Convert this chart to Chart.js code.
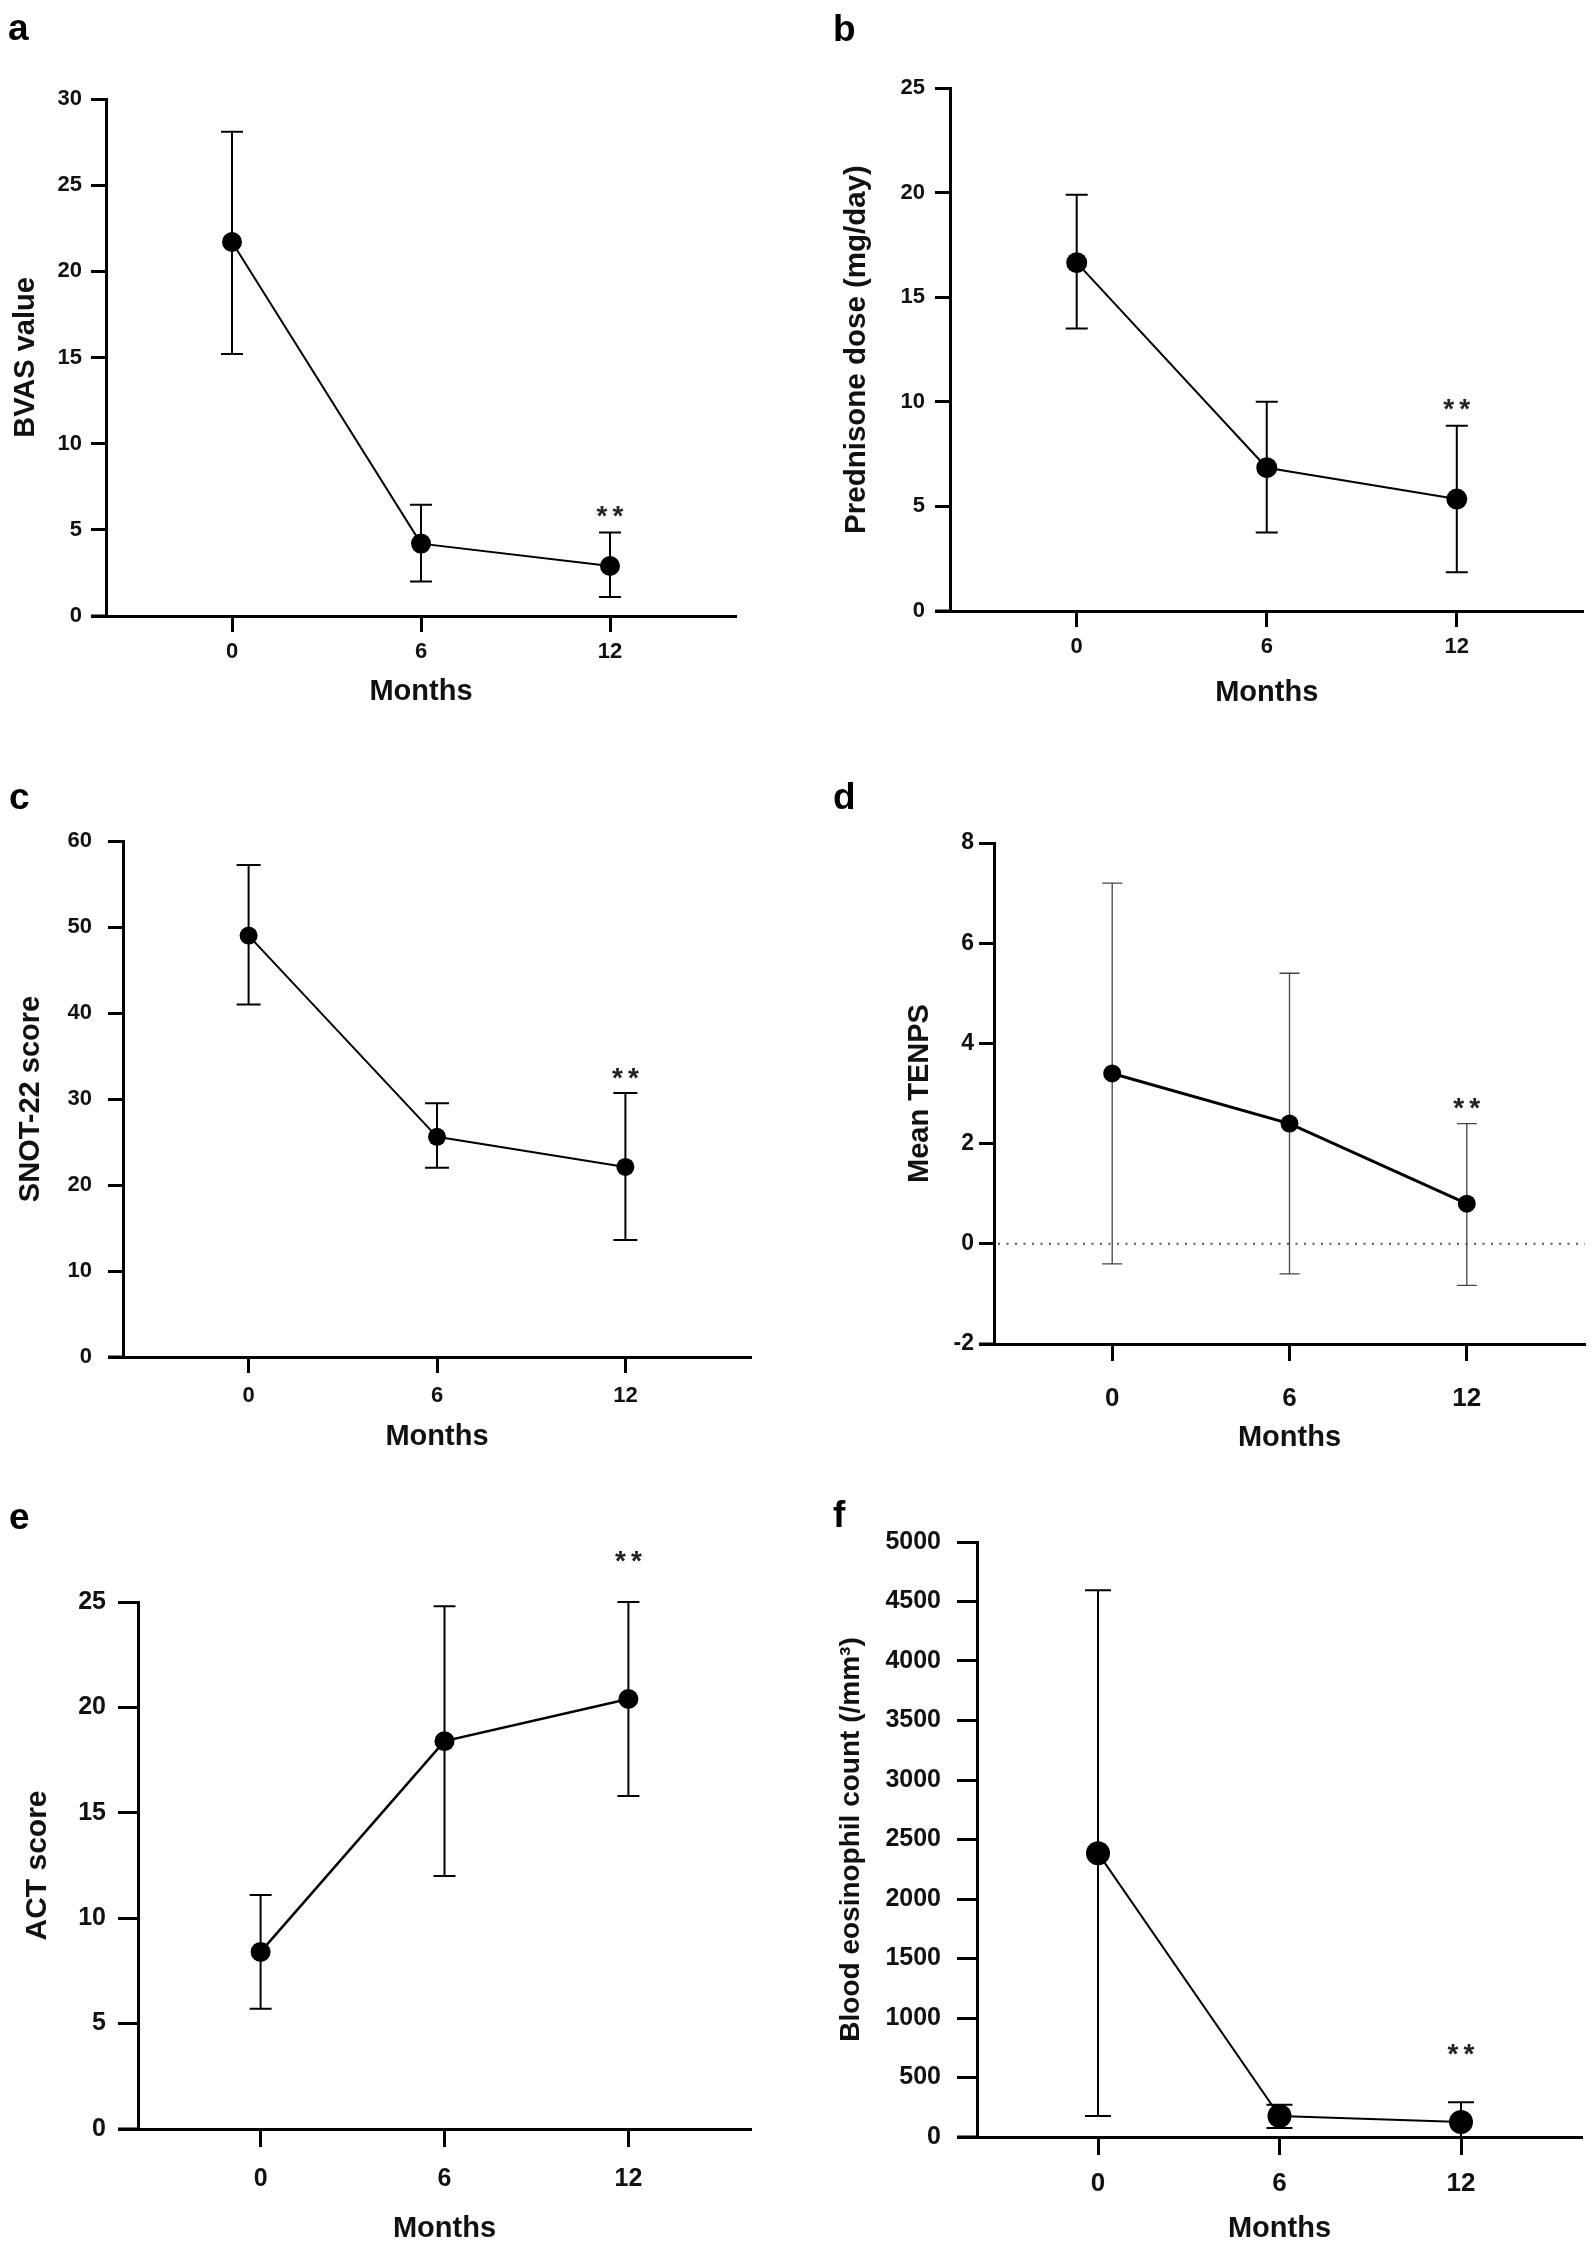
<!DOCTYPE html>
<html>
<head>
<meta charset="utf-8">
<script src="https://cdn.jsdelivr.net/npm/chart.js@4.4.1/dist/chart.umd.min.js"></script>
<style>
html, body { margin: 0; padding: 0; background: #fff; }
body { width: 1594px; height: 2260px; position: relative; overflow: hidden; font-family: "Liberation Sans", Arial, sans-serif; }
canvas { position: absolute; }
.tag { position: absolute; font-weight: bold; font-size: 37px; line-height: 37px; color: #000; z-index: 2; }
</style>
</head>
<body>
<canvas id="chart-a"></canvas>
<canvas id="chart-b"></canvas>
<canvas id="chart-c"></canvas>
<canvas id="chart-d"></canvas>
<canvas id="chart-e"></canvas>
<canvas id="chart-f"></canvas>
<script>
// Dados (média e limites das barras de erro)
const months = [0, 6, 12];

const bvasMean = [21.7, 4.2, 2.9];
const bvasLow = [15.2, 2.0, 1.1];
const bvasHigh = [28.1, 6.45, 4.85];

const prednisoneMean = [16.65, 6.85, 5.35];
const prednisoneLow = [13.5, 3.75, 1.85];
const prednisoneHigh = [19.9, 10.0, 8.85];

const snotMean = [49.0, 25.6, 22.1];
const snotLow = [41.0, 22.0, 13.6];
const snotHigh = [57.2, 29.5, 30.7];

const tenpsMean = [3.4, 2.4, 0.8];
const tenpsLow = [-0.4, -0.6, -0.83];
const tenpsHigh = [7.2, 5.4, 2.4];

const actMean = [8.4, 18.4, 20.4];
const actLow = [5.7, 12.0, 15.8];
const actHigh = [11.1, 24.8, 25.0];

const eosMean = [2385, 176, 126];
const eosLow = [176, 75, 0];
const eosHigh = [4594, 272, 293];

// Eixos e rótulos
const panelLetters = ['a', 'b', 'c', 'd', 'e', 'f'];
const xTitle = 'Months';
const yTitles = ['BVAS value', 'Prednisone dose (mg/day)', 'SNOT-22 score', 'Mean TENPS', 'ACT score', 'Blood eosinophil count (/mm³)'];
const yMins = [0, 0, 0, -2, 0, 0];
const yMaxs = [30, 25, 60, 8, 25, 5000];
const ySteps = [5, 5, 10, 2, 5, 500];
const sigText = '**';
const sigMonth = 12;
const sigLevels = [6.2, 10.0, 33.3, 2.86, 27.3, 753];

const fam = '"Liberation Sans", Arial, sans-serif';

// Layout de cada painel (posição do canvas e da área do gráfico em px)
const panels = [
  { id: 'chart-a', mean: bvasMean, low: bvasLow, high: bvasHigh,
    box: { x: 0, y: 0, w: 797, h: 740 }, area: { L: 106, T: 99, R: 736, B: 616 },
    tag: { x: 8, y: 9 }, yTickSize: 22, xTickSize: 22, yTickLen: 15, xTickLen: 16,
    yTitleSize: 29, yTickGap: 24, xTickDy: 36, xTitleDy: 76, yTitleX: 25.5,
    r: 10, lineW: 2, errW: 2, errColor: '#000', cap: 11 },
  { id: 'chart-b', mean: prednisoneMean, low: prednisoneLow, high: prednisoneHigh,
    box: { x: 797, y: 0, w: 797, h: 740 }, area: { L: 950, T: 88, R: 1584, B: 611 },
    tag: { x: 833, y: 10 }, yTickSize: 22, xTickSize: 22, yTickLen: 15, xTickLen: 16,
    yTitleSize: 29.5, yTickGap: 25, xTickDy: 36, xTitleDy: 82, yTitleX: 857,
    r: 10.5, lineW: 2, errW: 2, errColor: '#000', cap: 11 },
  { id: 'chart-c', mean: snotMean, low: snotLow, high: snotHigh,
    box: { x: 0, y: 740, w: 797, h: 740 }, area: { L: 123, T: 841, R: 751, B: 1357 },
    tag: { x: 9, y: 778 }, yTickSize: 22, xTickSize: 22, yTickLen: 15, xTickLen: 16,
    yTitleSize: 29, yTickGap: 31, xTickDy: 39, xTitleDy: 80, yTitleX: 31,
    r: 9, lineW: 2, errW: 2, errColor: '#000', cap: 12 },
  { id: 'chart-d', mean: tenpsMean, low: tenpsLow, high: tenpsHigh,
    box: { x: 797, y: 740, w: 797, h: 740 }, area: { L: 994, T: 843, R: 1585, B: 1344 },
    tag: { x: 833, y: 778 }, yTickSize: 23, xTickSize: 26, yTickLen: 15, xTickLen: 17,
    yTitleSize: 29, yTickGap: 20, xTickDy: 55, xTitleDy: 94, yTitleX: 920,
    r: 9, lineW: 3, errW: 1.3, errColor: '#444', cap: 10, zeroLine: true },
  { id: 'chart-e', mean: actMean, low: actLow, high: actHigh,
    box: { x: 0, y: 1480, w: 797, h: 780 }, area: { L: 138, T: 1602, R: 751, B: 2129 },
    tag: { x: 9, y: 1498 }, yTickSize: 25, xTickSize: 25, yTickLen: 20, xTickLen: 18,
    yTitleSize: 30, yTickGap: 32, xTickDy: 50, xTitleDy: 100, yTitleX: 38,
    r: 10, lineW: 2.5, errW: 2, errColor: '#000', cap: 11 },
  { id: 'chart-f', mean: eosMean, low: eosLow, high: eosHigh,
    box: { x: 797, y: 1480, w: 797, h: 780 }, area: { L: 977, T: 1542, R: 1589, B: 2137 },
    tag: { x: 833, y: 1496 }, yTickSize: 25, xTickSize: 26, yTickLen: 20, xTickLen: 18,
    yTitleSize: 28, yTickGap: 36, xTickDy: 47, xTitleDy: 92, yTitleX: 851,
    r: 12, lineW: 2, errW: 2, errColor: '#000', cap: 13 }
];

// Plugin que desenha barras de erro, linha pontilhada e os asteriscos
function makeExtras(p, idx) {
  return {
    id: 'extras' + idx,
    beforeDatasetsDraw(chart) {
      const { ctx, chartArea } = chart;
      const x = chart.scales.x, y = chart.scales.y;
      ctx.save();
      if (p.zeroLine) {
        const y0 = y.getPixelForValue(0);
        ctx.strokeStyle = '#555';
        ctx.lineWidth = 2;
        ctx.setLineDash([2, 6.5]);
        ctx.beginPath();
        ctx.moveTo(chartArea.left + 4, y0);
        ctx.lineTo(chartArea.right, y0);
        ctx.stroke();
        ctx.setLineDash([]);
      }
      ctx.strokeStyle = p.errColor;
      ctx.lineWidth = p.errW;
      months.forEach((m, i) => {
        const px = x.getPixelForValue(m);
        const pl = y.getPixelForValue(p.low[i]);
        const ph = y.getPixelForValue(p.high[i]);
        ctx.beginPath();
        ctx.moveTo(px, pl); ctx.lineTo(px, ph);
        ctx.moveTo(px - p.cap, pl); ctx.lineTo(px + p.cap, pl);
        ctx.moveTo(px - p.cap, ph); ctx.lineTo(px + p.cap, ph);
        ctx.stroke();
      });
      ctx.restore();
    },
    afterDraw(chart) {
      const { ctx, chartArea } = chart;
      const x = chart.scales.x, y = chart.scales.y;
      ctx.save();
      // prolonga o eixo x para a esquerda até o fim dos ticks do eixo y
      ctx.strokeStyle = '#000';
      ctx.lineWidth = 3;
      ctx.beginPath();
      ctx.moveTo(chartArea.left - p.yTickLen, chartArea.bottom);
      ctx.lineTo(chartArea.left, chartArea.bottom);
      ctx.stroke();
      // asteriscos de significância
      const sx = x.getPixelForValue(sigMonth);
      const sy = y.getPixelForValue(sigLevels[idx]);
      ctx.fillStyle = '#222';
      ctx.font = 'bold 28px ' + fam;
      ctx.textAlign = 'center';
      ctx.textBaseline = 'alphabetic';
      const stars = sigText.split('');
      stars.forEach((s, k) => {
        ctx.fillText(s, sx + (k - (stars.length - 1) / 2) * 16, sy + 16);
      });
      ctx.restore();
    }
  };
}

function buildPanel(p, idx) {
  const cv = document.getElementById(p.id);
  cv.width = p.box.w;
  cv.height = p.box.h;
  cv.style.left = p.box.x + 'px';
  cv.style.top = p.box.y + 'px';

  const tag = document.createElement('div');
  tag.className = 'tag';
  tag.textContent = panelLetters[idx];
  tag.style.left = p.tag.x + 'px';
  tag.style.top = p.tag.y + 'px';
  document.body.appendChild(tag);

  const a = p.area;

  return new Chart(cv, {
    type: 'scatter',
    data: {
      datasets: [{
        data: months.map((m, i) => ({ x: m, y: p.mean[i] })),
        showLine: true,
        borderColor: '#000',
        borderWidth: p.lineW,
        pointRadius: p.r,
        pointHoverRadius: p.r,
        pointBackgroundColor: '#000',
        pointBorderWidth: 0,
        clip: false
      }]
    },
    options: {
      responsive: false,
      animation: false,
      devicePixelRatio: 1,
      events: [],
      layout: { padding: { left: 0, top: a.T - p.box.y, right: p.box.x + p.box.w - a.R, bottom: 0 } },
      plugins: { legend: { display: false }, tooltip: { enabled: false } },
      scales: {
        x: {
          type: 'linear', position: 'bottom', min: -4, max: 16,
          afterBuildTicks: s => { s.ticks = months.map(v => ({ value: v })); },
          afterFit: s => { s.height = p.box.y + p.box.h - a.B; },
          grid: { display: true, drawOnChartArea: false, drawTicks: true, tickLength: p.xTickLen, tickWidth: 3, tickColor: '#000' },
          border: { display: true, color: '#000', width: 3 },
          ticks: {
            color: '#111', autoSkip: false, maxRotation: 0,
            callback: v => String(v),
            font: { family: fam, size: p.xTickSize, weight: 'bold', lineHeight: 1 },
            padding: p.xTickDy - p.xTickLen - p.xTickSize / 2
          },
          title: {
            display: true, text: xTitle, color: '#111',
            font: { family: fam, size: 29, weight: 'bold', lineHeight: 1 },
            padding: { top: 0, bottom: p.box.y + p.box.h - (a.B + p.xTitleDy) - 14.5 }
          }
        },
        y: {
          min: yMins[idx], max: yMaxs[idx],
          afterFit: s => { s.width = a.L - p.box.x; },
          grid: { display: true, drawOnChartArea: false, drawTicks: true, tickLength: p.yTickLen, tickWidth: 3, tickColor: '#000' },
          border: { display: true, color: '#000', width: 3 },
          ticks: {
            stepSize: ySteps[idx], color: '#111', autoSkip: false,
            callback: v => String(v),
            font: { family: fam, size: p.yTickSize, weight: 'bold', lineHeight: 1 },
            padding: p.yTickGap - p.yTickLen
          },
          title: {
            display: true, text: yTitles[idx], color: '#111',
            font: { family: fam, size: p.yTitleSize, weight: 'bold', lineHeight: 1 },
            padding: { top: p.yTitleX - p.box.x - p.yTitleSize / 2, bottom: 0 }
          }
        }
      }
    },
    plugins: [makeExtras(p, idx)]
  });
}

panels.forEach((p, i) => buildPanel(p, i));
</script>
</body>
</html>
